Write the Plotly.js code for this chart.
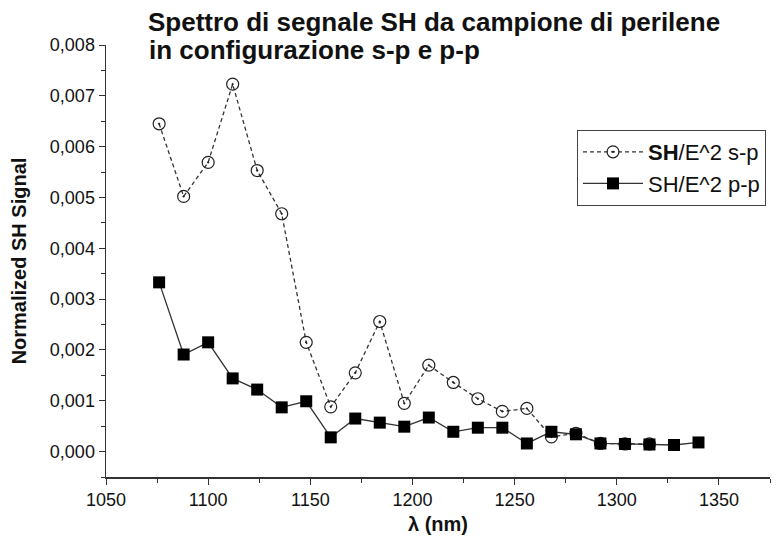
<!DOCTYPE html>
<html>
<head>
<meta charset="utf-8">
<script src="https://cdn.plot.ly/plotly-3.0.1.min.js"></script>
<style>
  html, body { margin: 0; padding: 0; background: #fff; }
  #chart { width: 781px; height: 540px; }
</style>
</head>
<body>
<div id="chart"></div>
<script>
// wavelengths (nm) and normalized signal
let lambdaSP = [1076, 1088, 1100, 1112, 1124, 1136, 1148, 1160, 1172, 1184, 1196, 1208,
                1220, 1232, 1244, 1256, 1268, 1280, 1292, 1304, 1316];
let signalSP = [0.00645, 0.00502, 0.00569, 0.00723, 0.00553, 0.00468, 0.00215, 0.00088,
                0.00155, 0.00256, 0.00095, 0.00170, 0.00136, 0.00104, 0.00079, 0.00085,
                0.00029, 0.00036, 0.00016, 0.00015, 0.00015];

let lambdaPP = [1076, 1088, 1100, 1112, 1124, 1136, 1148, 1160, 1172, 1184, 1196, 1208,
                1220, 1232, 1244, 1256, 1268, 1280, 1292, 1304, 1316, 1328, 1340];
let signalPP = [0.00333, 0.00191, 0.00215, 0.00144, 0.00122, 0.00087, 0.00099, 0.00028,
                0.00065, 0.00057, 0.00049, 0.00067, 0.00039, 0.00047, 0.00047, 0.00016,
                0.00039, 0.00034, 0.00016, 0.00015, 0.00014, 0.00013, 0.00018];

let titleLines = ['Spettro di segnale SH da campione di perilene', 'in configurazione s-p e p-p'];
let seriesNames = ['<b>SH</b>/E^2 s-p', 'SH/E^2 p-p'];

let FONT = '"Liberation Sans", Arial, sans-serif';

let traces = [
  { x: lambdaSP, y: signalSP, type: 'scatter', mode: 'lines+markers',
    name: seriesNames[0],
    line: { color: '#333333', width: 1.3, dash: '4px,3px' },
    marker: { symbol: 'circle-open-dot', size: 12, color: '#222222', line: { width: 1.2 } }
  },
  { x: lambdaPP, y: signalPP, type: 'scatter', mode: 'lines+markers',
    name: seriesNames[1],
    line: { color: '#333333', width: 1.3 },
    marker: { symbol: 'square', size: 12, color: '#000000' }
  }
];

let layout = {
  width: 781, height: 540,
  margin: { l: 106, r: 11, t: 45, b: 63 },
  paper_bgcolor: '#fff', plot_bgcolor: '#fff',
  separators: ',.',
  font: { family: FONT, color: '#111', size: 18 },
  showlegend: true,
  // title is split in two texts so the line spacing stays tight like the original
  title: {
    text: titleLines[0],
    xref: 'container', yref: 'container',
    x: 148 / 781, xanchor: 'left', y: 1 - 22 / 540, yanchor: 'middle',
    font: { family: FONT, size: 26, weight: 'bold', color: '#111' }
  },
  annotations: [{
    text: titleLines[1], xref: 'paper', yref: 'paper',
    x: (148 - 106) / 664, xanchor: 'left', y: (477 - 50) / 432, yanchor: 'middle',
    showarrow: false, borderpad: 0,
    font: { family: FONT, size: 26, weight: 'bold', color: '#111' }
  }],
  xaxis: {
    range: [1050, 1375], dtick: 50, tick0: 1050,
    showgrid: false, zeroline: false, showline: true, linecolor: '#333', linewidth: 1.5,
    ticks: 'outside', ticklen: 6, tickcolor: '#333',
    minor: { dtick: 25, ticks: 'outside', ticklen: 4, tickcolor: '#333', showgrid: false },
    tickfont: { size: 18 },
    title: { text: 'λ (nm)', standoff: 8, font: { size: 20, weight: 'bold' } }
  },
  yaxis: {
    range: [-0.0005, 0.008], dtick: 0.001, tick0: 0, tickformat: '.3f',
    showgrid: false, zeroline: false, showline: true, linecolor: '#333', linewidth: 1.5,
    ticks: 'outside', ticklen: 6, tickcolor: '#333',
    minor: { dtick: 0.0005, ticks: 'outside', ticklen: 4, tickcolor: '#333', showgrid: false },
    tickfont: { size: 18 },
    title: { text: 'Normalized SH Signal', standoff: 18, font: { size: 20, weight: 'bold' } }
  },
  legend: {
    x: (577 - 106) / 664, y: (477 - 130) / 432, xanchor: 'left', yanchor: 'top',
    bgcolor: '#fff', bordercolor: '#444', borderwidth: 1, itemwidth: 60,
    font: { size: 22, color: '#111' }, tracegroupgap: 0
  }
};

Plotly.newPlot('chart', traces, layout, { displayModeBar: false, staticPlot: true });
</script>
</body>
</html>
